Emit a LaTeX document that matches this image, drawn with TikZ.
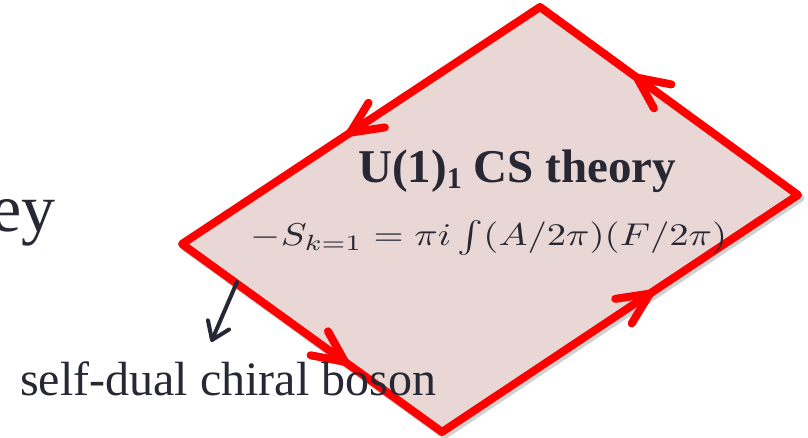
\documentclass[tikz,border=0pt]{standalone}
\usepackage{fontspec}
\setmainfont{Liberation Serif}
\usetikzlibrary{calc}
\definecolor{redline}{RGB}{255,0,0}
\definecolor{pinkfill}{RGB}{232,215,212}
\definecolor{ink}{RGB}{40,40,52}
\begin{document}
\begin{tikzpicture}[x=1pt,y=-1pt,
  edge/.style={draw=redline,line width=8pt,line cap=round,line join=round},
  shadowline/.style={draw=black,line width=8pt,line join=round,opacity=0.18},
  pointer/.style={draw=ink,line width=4pt,line cap=round,line join=round},
  txt/.style={text=ink,inner sep=0pt}]
\useasboundingbox (0,0) rectangle (808,438);
\clip (0,0) rectangle (808,438);
\coordinate (T) at (540,7);
\coordinate (L) at (182,244);
\coordinate (B) at (442,432);
\coordinate (R) at (798,195);
% shadow
\draw[shadowline] ($(T)+(2.5,3)$)--($(L)+(2.5,3)$)--($(B)+(2.5,3)$)--($(R)+(2.5,3)$)--cycle;
% body
\fill[pinkfill] (T)--(L)--(B)--(R)--cycle;
\draw[edge] (T)--(L)--(B)--(R)--cycle;
% edge arrowheads
\coordinate (a1) at ($(T)!0.53!(L)$);
\coordinate (a2) at ($(L)!0.627!(B)$);
\coordinate (a3) at ($(B)!0.584!(R)$);
\coordinate (a4) at ($(R)!0.624!(T)$);
\draw[edge] ($(a1)!35pt!25:(T)$) -- (a1) -- ($(a1)!35pt!-25:(T)$);
\draw[edge] ($(a2)!35pt!25:(L)$) -- (a2) -- ($(a2)!35pt!-25:(L)$);
\draw[edge] ($(a3)!35pt!25:(B)$) -- (a3) -- ($(a3)!35pt!-25:(B)$);
\draw[edge] ($(a4)!35pt!25:(R)$) -- (a4) -- ($(a4)!35pt!-25:(R)$);
% texts
\node[txt,anchor=base,font=\fontsize{47}{47}\selectfont\bfseries] (title) at (517,183)
  {U(1)\raisebox{-6pt}{\fontsize{30}{30}\selectfont 1} CS theory};
\node[txt,anchor=base,font=\normalsize] (eq) at (489,246)
  {\scalebox{3.87}[3.15]{$-S_{k=1}= \pi i\int(A/2\pi)(F/2\pi)$}};
\node[txt,anchor=base west,font=\fontsize{48}{48}\selectfont] (lbl) at (20,395)
  {self-dual chiral boson};
\node[txt,anchor=base east,font=\fontsize{68}{68}\selectfont] (ey) at (56,232) {ey};
% pointer arrow
\coordinate (p0) at (237,282);
\coordinate (p1) at (212,340);
\draw[pointer] (p0) -- (p1);
\draw[pointer] ($(p1)!20pt!35:(p0)$) -- (p1) -- ($(p1)!20pt!-35:(p0)$);
\end{tikzpicture}
\end{document}
